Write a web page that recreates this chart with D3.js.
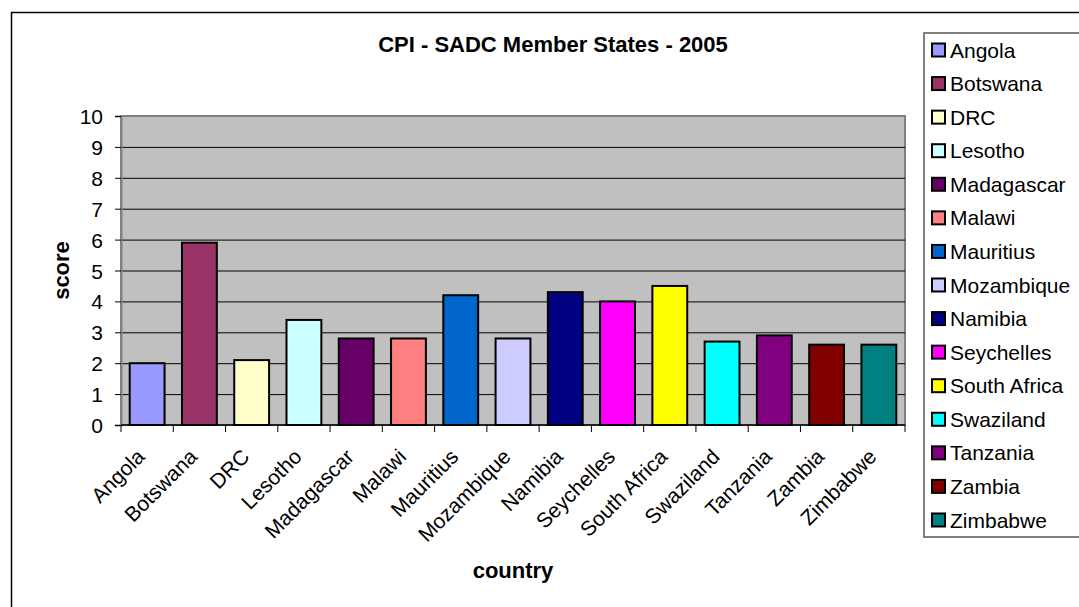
<!DOCTYPE html>
<html>
<head>
<meta charset="utf-8">
<script src="https://cdn.jsdelivr.net/npm/d3@7"></script>
<style>
  body { margin: 0; background: #ffffff; }
  text { font-family: "Liberation Sans", Arial, sans-serif; }
</style>
</head>
<body>
<div id="container"></div>
<script>
  // data
  const countries = ['Angola', 'Botswana', 'DRC', 'Lesotho', 'Madagascar', 'Malawi', 'Mauritius',
    'Mozambique', 'Namibia', 'Seychelles', 'South Africa', 'Swaziland', 'Tanzania', 'Zambia', 'Zimbabwe']
  const scores = [2.0, 5.9, 2.1, 3.4, 2.8, 2.8, 4.2, 2.8, 4.3, 4.0, 4.5, 2.7, 2.9, 2.6, 2.6]
  const colors = ['#9999FF', '#993366', '#FFFFCC', '#CCFFFF', '#660066', '#FF8080', '#0066CC',
    '#CCCCFF', '#000080', '#FF00FF', '#FFFF00', '#00FFFF', '#800080', '#800000', '#008080']
  const yTicks = [0, 1, 2, 3, 4, 5, 6, 7, 8, 9, 10]

  const width = 1079
  const height = 607
  const plot = { left: 121, top: 116, right: 905, bottom: 425 }

  const svg = d3.select('#container')
    .append('svg')
    .attr('width', width)
    .attr('height', height)

  // chart area border (runs off the picture on the right and bottom)
  svg.append('rect')
    .attr('x', 11.5).attr('y', 12.5)
    .attr('width', 1100).attr('height', 620)
    .attr('fill', '#ffffff')
    .attr('stroke', '#000000')
    .attr('stroke-width', 1.5)

  const xScale = d3.scaleBand()
    .domain(countries)
    .range([plot.left, plot.right])
    .paddingInner(1 / 3)
    .paddingOuter(1 / 6)

  const yScale = d3.scaleLinear()
    .domain([0, 10])
    .range([plot.bottom, plot.top])

  const band = (plot.right - plot.left) / countries.length

  // plot background
  svg.append('rect')
    .attr('x', plot.left).attr('y', plot.top)
    .attr('width', plot.right - plot.left)
    .attr('height', plot.bottom - plot.top)
    .attr('fill', '#C0C0C0')
    .attr('stroke', '#808080')
    .attr('stroke-width', 2)

  // horizontal grid lines
  svg.append('g')
    .attr('transform', `translate(${plot.left}, 0)`)
    .call(d3.axisLeft(yScale)
      .tickValues(yTicks.slice(1, -1))
      .tickSize(-(plot.right - plot.left))
      .tickFormat('')
    )
    .call(g => g.select('.domain').remove())
    .call(g => g.selectAll('line').attr('stroke', '#000000').attr('stroke-width', 1))

  // y axis
  const yAxis = svg.append('g')
    .attr('transform', `translate(${plot.left}, 0)`)
    .call(d3.axisLeft(yScale).tickValues(yTicks).tickSize(6).tickPadding(12))
  yAxis.select('.domain').attr('stroke', '#808080').attr('stroke-width', 2)
  yAxis.selectAll('line').attr('stroke', '#000000')
  yAxis.selectAll('text')
    .style('font-size', '21px')
    .attr('fill', '#000000')
    .attr('dy', '0.36em')

  // x axis: ticks on band edges
  const xEdges = d3.range(countries.length + 1).map(i => plot.left + i * band)
  svg.append('g')
    .selectAll('line')
    .data(xEdges)
    .join('line')
    .attr('x1', d => d).attr('x2', d => d)
    .attr('y1', plot.bottom).attr('y2', plot.bottom + 7)
    .attr('stroke', '#000000')
    .attr('stroke-width', 1)
  svg.append('line')
    .attr('x1', plot.left).attr('x2', plot.right)
    .attr('y1', plot.bottom).attr('y2', plot.bottom)
    .attr('stroke', '#000000')
    .attr('stroke-width', 1.5)

  // bars
  svg.append('g')
    .selectAll('rect')
    .data(countries)
    .join('rect')
    .attr('x', d => xScale(d))
    .attr('y', (d, i) => yScale(scores[i]))
    .attr('width', xScale.bandwidth())
    .attr('height', (d, i) => plot.bottom - yScale(scores[i]))
    .attr('fill', (d, i) => colors[i])
    .attr('stroke', '#000000')
    .attr('stroke-width', 2)

  // category labels, rotated
  svg.append('g')
    .selectAll('text')
    .data(countries)
    .join('text')
    .attr('transform', d => `translate(${xScale(d) + xScale.bandwidth() / 2 - 1}, 458) rotate(-45)`)
    .attr('text-anchor', 'end')
    .style('font-size', '21px')
    .text(d => d)

  // titles
  svg.append('text')
    .attr('x', 553).attr('y', 52)
    .attr('text-anchor', 'middle')
    .style('font-size', '22px')
    .style('font-weight', 'bold')
    .text('CPI - SADC Member States - 2005')

  svg.append('text')
    .attr('x', (plot.left + plot.right) / 2).attr('y', 578)
    .attr('text-anchor', 'middle')
    .style('font-size', '22px')
    .style('font-weight', 'bold')
    .text('country')

  svg.append('text')
    .attr('transform', `translate(69, ${(plot.top + plot.bottom) / 2}) rotate(-90)`)
    .attr('text-anchor', 'middle')
    .style('font-size', '22px')
    .style('font-weight', 'bold')
    .text('score')

  // legend
  const legend = svg.append('g')
  legend.append('rect')
    .attr('x', 924).attr('y', 33)
    .attr('width', 200).attr('height', 504)
    .attr('fill', '#ffffff')
    .attr('stroke', '#808080')
    .attr('stroke-width', 2)

  const items = legend.selectAll('g.item')
    .data(countries)
    .join('g')
    .attr('class', 'item')
    .attr('transform', (d, i) => `translate(0, ${50 + i * 33.57})`)

  items.append('rect')
    .attr('x', 932).attr('y', -6.5)
    .attr('width', 13).attr('height', 13)
    .attr('fill', (d, i) => colors[i])
    .attr('stroke', '#000000')
    .attr('stroke-width', 2)

  items.append('text')
    .attr('x', 950).attr('dy', '0.36em')
    .style('font-size', '21px')
    .text(d => d)
</script>
</body>
</html>
